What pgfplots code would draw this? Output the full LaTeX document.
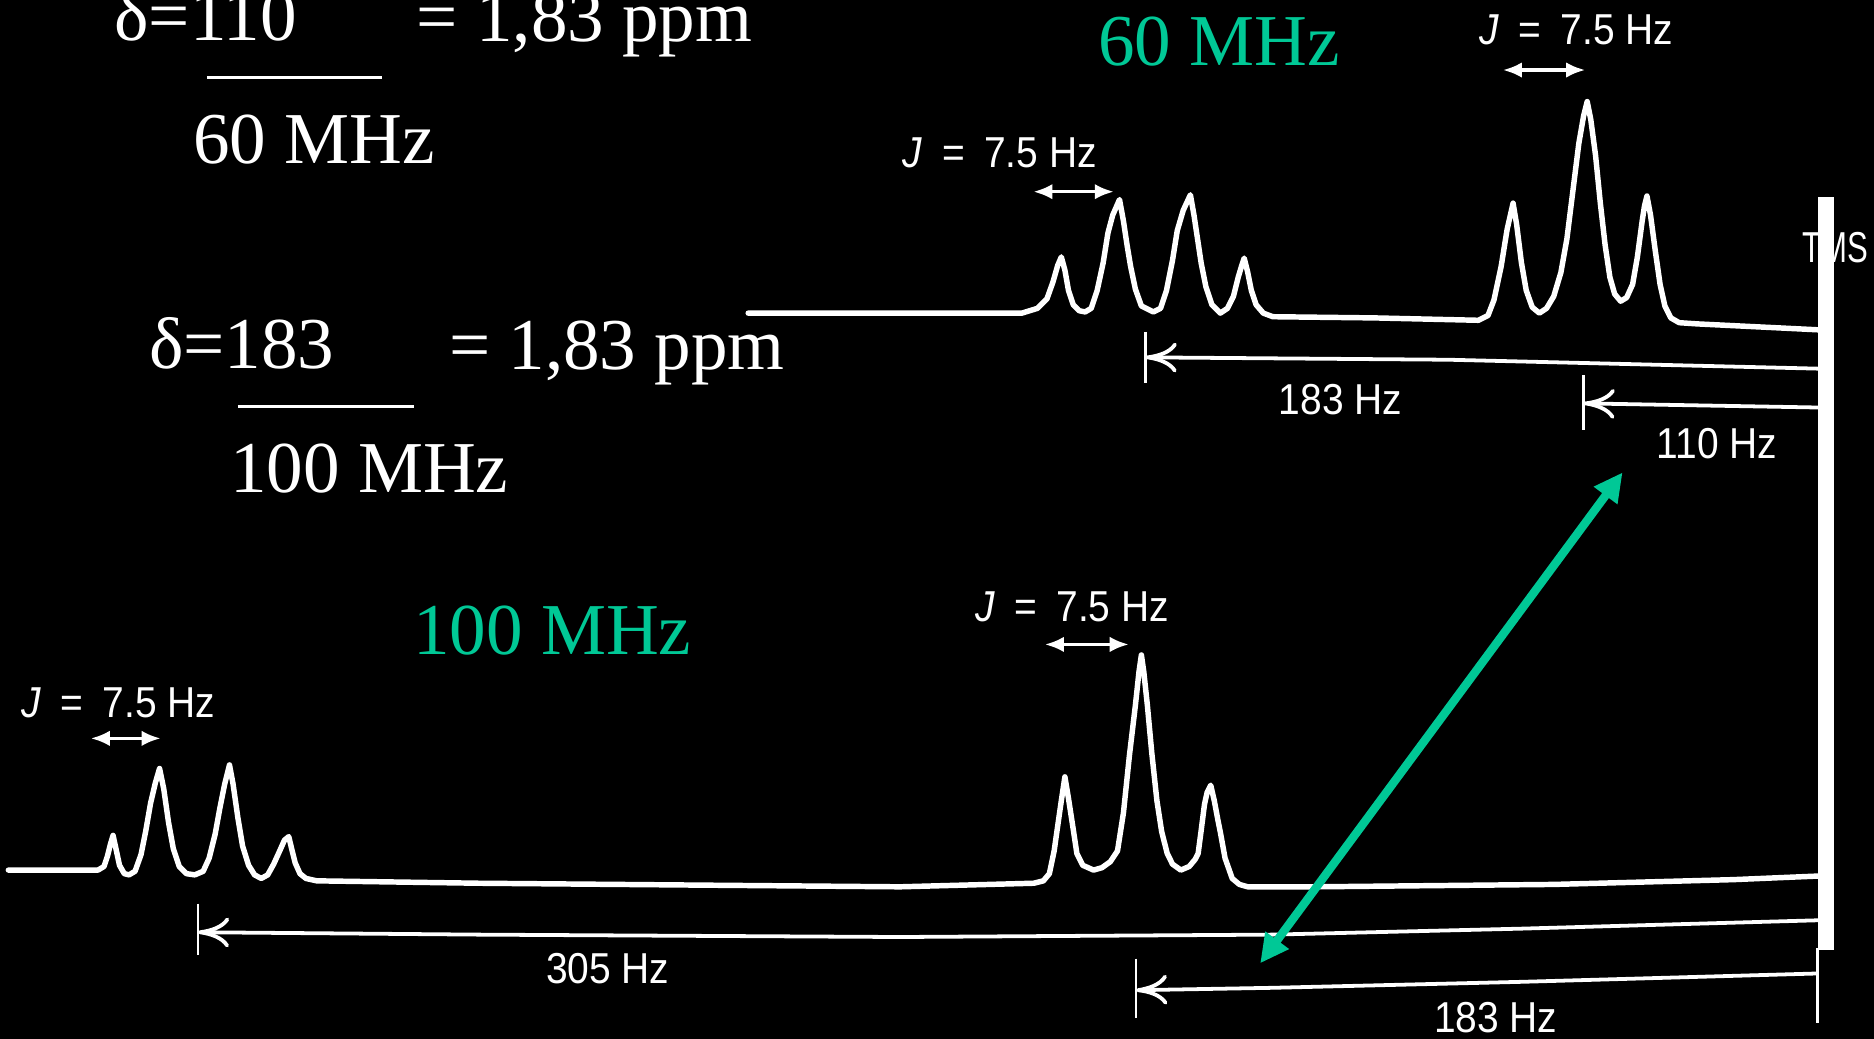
\documentclass[border=0pt]{standalone}
\usepackage{graphicx}
\usepackage{pgfplots}
\pgfplotsset{compat=1.18}
\usepackage{fontspec}
\setmainfont{Liberation Serif}
\newfontfamily\labelfont{Liberation Sans}[FakeStretch=0.9]
\usetikzlibrary{arrows.meta}
\definecolor{mhz}{RGB}{0,200,150}

\begin{document}
\begin{tikzpicture}[
  big/.style={text=white, inner sep=0pt, font=\fontsize{17.4}{20}\selectfont},
  freq/.style={text=mhz, inner sep=0pt, font=\fontsize{17.4}{20}\selectfont},
  hz/.style={text=white, inner sep=0pt, font=\labelfont\fontsize{10.3}{12}\selectfont},
  spec/.style={white, line width=1.3pt, line join=round, line cap=round},
  hzarrow/.style={white, line width=0.9pt, -{To[length=2.6mm,width=2.5mm]}},
  jarrow/.style={white, line width=0.85pt, {Latex[length=1.6mm,width=1.3mm]}-{Latex[length=1.6mm,width=1.3mm]}},
]
\useasboundingbox (0,0) rectangle (15.68cm,8.69cm);
\fill[black] (0,0) rectangle (15.68cm,8.69cm);
\begin{axis}[
  width=15.68cm, height=8.69cm, scale only axis,
  xmin=0, xmax=1568, ymin=0, ymax=869, y dir=reverse,
  axis lines=none, clip=false,
]

% ---------- chemical-shift formulas ----------
\node[big, anchor=base west] at (95,34) {δ=110};
\node[big, anchor=base west] at (348,35) {= 1,83 ppm};
\draw[white, line width=0.6pt] (173,65) -- (319.5,65);
\node[big, anchor=base west] at (161,137) {60 MHz};

\node[big, anchor=base west] at (124,308) {δ=183};
\node[big, anchor=base west] at (375,309.5) {= 1,83 ppm};
\draw[white, line width=0.6pt] (199,340) -- (346,340);
\node[big, anchor=base west] at (192,412) {100 MHz};

\node[freq, anchor=base west] at (918,55) {60 MHz};
\node[freq, anchor=base west] at (345,548) {100 MHz};

% ---------- 60 MHz spectrum ----------
\addplot[spec] coordinates {
 (626,262) (855,262) (868,258) (876,250) (881,236) (885,222) (888,215)
 (891,226) (894,243) (898,255) (903,260) (908,261)
 (913,258) (918,243) (923,220) (927,195) (931,180) (936.7,167)
 (940,185) (943,205) (946,223) (950,242) (955,256) (965,261)
 (971,258) (976,243) (981,218) (985,193) (990,176) (996,163)
 (999,180) (1002,200) (1005,220) (1009,240) (1014,255) (1021,262)
 (1027,258) (1032,248) (1036,232) (1039,222) (1041,216)
 (1044,228) (1047,243) (1051,255) (1057,262) (1065,265)
 (1150,266) (1237,268)
 (1245,264) (1250,251) (1256,223) (1261,192) (1266,170)
 (1269,188) (1273,220) (1277,243) (1282,257) (1288,262)
 (1294,258) (1300,248) (1306,228) (1311,200) (1316,160) (1321,120) (1325,97) (1328,85)
 (1331,100) (1335,130) (1339,170) (1343,205) (1347,232) (1351,246) (1356,252)
 (1361,249) (1366,238) (1370,215) (1374,185) (1376,172) (1378,164)
 (1381,180) (1385,210) (1389,238) (1393,256) (1398,266) (1405,270)
 (1420,271) (1522,276)
};

% ---------- 100 MHz spectrum ----------
\addplot[spec] coordinates {
 (7,728) (82,728) (87,725) (90,716) (92.5,706) (94.6,699)
 (97,710) (100,724) (104,731) (108,732)
 (113,729) (118,715) (122,695) (126,672) (130,655) (133.5,643)
 (137,660) (141,688) (145,710) (150,725) (156,731) (163,732)
 (170,729) (175,718) (180,698) (184,676) (188,656) (192,640)
 (195,656) (199,684) (203,708) (208,724) (213,732) (218.6,735)
 (224,732) (229,723) (234,712) (238,703) (241.6,700)
 (244,710) (247,722) (251,731) (256,735) (265,737)
 (400,739) (753,742) (865,739)
 (873,737) (878,731) (882,712) (885.7,686) (888,670) (891,650)
 (894,668) (898,694) (901,714) (906,724) (915,728)
 (922,726) (929,721) (935,712) (940,680) (945,632) (950,590) (953,562) (955,548)
 (957,562) (960,590) (963.7,630) (968,670) (972,696) (976.6,714) (981,723) (988,728)
 (995,725) (1000,719) (1002.5,714) (1005,695) (1007.8,673) (1010,663) (1013,657)
 (1016,670) (1019,686) (1021,696) (1025,718) (1031,735) (1037,740) (1044,742)
 (1100,742) (1300,740) (1450,736) (1521,733)
};

% ---------- TMS reference ----------
\node[hz, anchor=base east] at (1564,220) {\scalebox{0.8}[1]{TMS}};
\draw[white, line width=3.8pt] (1528,165) -- (1528,795);
\draw[white, line width=0.7pt] (1521,793) -- (1521,856);

% ---------- shift arrows, 60 MHz ----------
\draw[white, line width=0.6pt] (958.6,277.6) -- (958.6,320.8);
\draw[hzarrow] (1523,308.5) -- (1212,301) -- (958.6,299);
\node[hz, anchor=base] at (1121.5,347) {183 Hz};

\draw[white, line width=0.6pt] (1325,314) -- (1325,360);
\draw[hzarrow] (1523,341) -- (1325,337.5);
\node[hz, anchor=base] at (1436.5,384) {110 Hz};

% ---------- shift arrows, 100 MHz ----------
\draw[white, line width=0.6pt] (165.7,756) -- (165.7,799);
\draw[hzarrow] (1521,770) -- (1273,777) -- (1065,782) -- (753,784) -- (400,782) -- (165.7,780);
\node[hz, anchor=base] at (508.5,823) {305 Hz};

\draw[white, line width=0.6pt] (950.6,802) -- (950.6,852);
\draw[hzarrow] (1521,814.5) -- (1273,821.5) -- (1065,826.5) -- (950.6,828.5);
\node[hz, anchor=base] at (1251.5,864) {183 Hz};

% ---------- coupling constants ----------
\node[hz, anchor=base] at (836.5,140) {\textit{J}\hspace{0.45em}=\hspace{0.45em}7.5 Hz};
\draw[jarrow] (864.6,160.4) -- (932,160.4);
\node[hz, anchor=base] at (1319,37) {\textit{J}\hspace{0.45em}=\hspace{0.45em}7.5 Hz};
\draw[jarrow] (1257.4,58.6) -- (1326.4,58.6);
\node[hz, anchor=base] at (99,600) {\textit{J}\hspace{0.45em}=\hspace{0.45em}7.5 Hz};
\draw[jarrow] (75.9,617.8) -- (134.5,617.8);
\node[hz, anchor=base] at (897,520) {\textit{J}\hspace{0.45em}=\hspace{0.45em}7.5 Hz};
\draw[jarrow] (874.2,539.2) -- (944.5,539.2);

% ---------- link between the two shift scales ----------
\draw[mhz, line width=2pt, {Triangle[length=2.4mm,width=2.3mm]}-{Triangle[length=2.4mm,width=2.3mm]}]
  (1054.4,806) -- (1357.6,395.3);

\end{axis}
\end{tikzpicture}
\end{document}
